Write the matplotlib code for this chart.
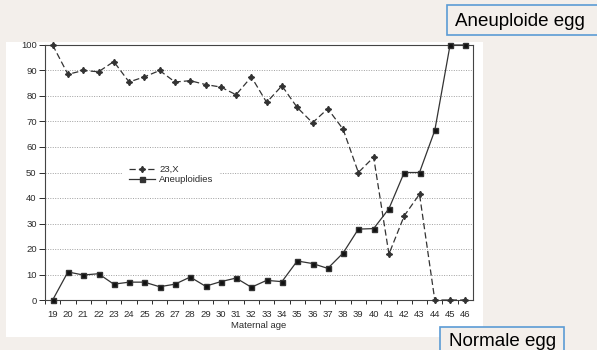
import matplotlib.pyplot as plt
from matplotlib.patches import Rectangle
from matplotlib.lines import Line2D

ages = list(range(19, 47))
x23 = [100, 88.5, 90, 89.5, 93.5, 85.5, 87.5, 90, 85.5, 86, 84.5, 83.5, 80.5, 87.5,
       77.5, 84, 75.5, 69.5, 75, 67, 50, 56, 18, 33, 41.5, 0, 0, 0]
aneuploidies = [0, 11, 9.8, 10.3, 6.2, 7, 7, 5.2, 6.2, 9, 5.4, 7.2, 8.6, 5,
                7.7, 7.2, 15.3, 14.3, 12.4, 18.4, 27.8, 28, 35.8, 50, 50, 66.5, 100, 100]
yticks = list(range(0, 101, 10))

bg = '#f3efeb'
ink = '#2b2b2b'
plt.rcParams['font.family'] = ['Liberation Sans', 'DejaVu Sans']

fig = plt.figure(figsize=(5.97, 3.5), dpi=100, facecolor=bg)

# white panel behind the chart
fig.patches.append(Rectangle((6 / 597, 1 - 337 / 350), 477 / 597, 295 / 350,
                             transform=fig.transFigure, facecolor='white',
                             edgecolor='none', zorder=-1))

ax = fig.add_axes([45 / 597, 1 - 300 / 350, 428 / 597, 255 / 350])
ax.set_facecolor('white')

for y in yticks[1:-1]:
    ax.axhline(y, color='#a0a0a0', linestyle=(0, (1, 1.5)), linewidth=0.7, zorder=1)

dash = (0, (5, 2.5))
ax.plot(ages, x23, color='#333333', linestyle=dash, linewidth=0.9,
        marker=(4, 1, 0), markersize=4.5, zorder=3, clip_on=False)
ax.plot(ages, aneuploidies, color='#333333', linestyle='-', linewidth=0.9,
        marker='s', markersize=3.6, markerfacecolor='#111111', zorder=3, clip_on=False)

ax.set_xlim(18.5, 46.5)
ax.set_ylim(0, 100)
ax.set_xticks(ages)
ax.set_xticklabels([str(a) for a in ages])
ax.set_xticks([a + 0.5 for a in range(18, 46)], minor=True)
ax.tick_params(axis='x', which='major', length=0, pad=7, labelsize=6.8, labelcolor=ink)
ax.tick_params(axis='x', which='minor', length=3, width=0.7, color=ink, direction='out')
ax.set_yticks(yticks)
ax.tick_params(axis='y', length=4, width=0.7, color=ink, direction='out',
               labelsize=6.8, labelcolor=ink, pad=2)
for s in ax.spines.values():
    s.set_color('#444444')
    s.set_linewidth(0.8)
ax.set_xlabel('Maternal age', fontsize=6.8, color=ink, labelpad=2)

handles = [
    Line2D([], [], color='#333333', linestyle=dash, linewidth=0.9, marker=(4, 1, 0), markersize=4.5),
    Line2D([], [], color='#333333', linestyle='-', linewidth=0.9, marker='s', markersize=3.6),
]
leg = ax.legend(handles, ['23,X', 'Aneuploidies'], loc='upper left',
                bbox_to_anchor=(0.172, 0.57), fontsize=6.8, frameon=True,
                handlelength=2.8, handletextpad=0.4, labelspacing=0.15,
                borderpad=0.6)
leg.get_frame().set_edgecolor('none')
leg.get_frame().set_facecolor('white')
leg.get_frame().set_alpha(1)
for t in leg.get_texts():
    t.set_color(ink)

# label boxes
box_c = '#5b9bd5'
fig.patches.append(Rectangle((447 / 597, 1 - 35 / 350), 160 / 597, 30 / 350,
                             transform=fig.transFigure, facecolor=bg,
                             edgecolor=box_c, linewidth=1.2, zorder=5))
fig.text(455 / 597, 1 - 21 / 350, 'Aneuploide egg', fontsize=13.5, color='black',
         ha='left', va='center', zorder=6)
fig.patches.append(Rectangle((440 / 597, -10 / 350), 124 / 597, 33 / 350,
                             transform=fig.transFigure, facecolor=bg,
                             edgecolor=box_c, linewidth=1.2, zorder=5))
fig.text(449 / 597, 1 - 346 / 350, 'Normale egg', fontsize=13.5, color='black',
         ha='left', va='baseline', zorder=6)

fig.savefig('out.png', dpi=100, facecolor=bg)
